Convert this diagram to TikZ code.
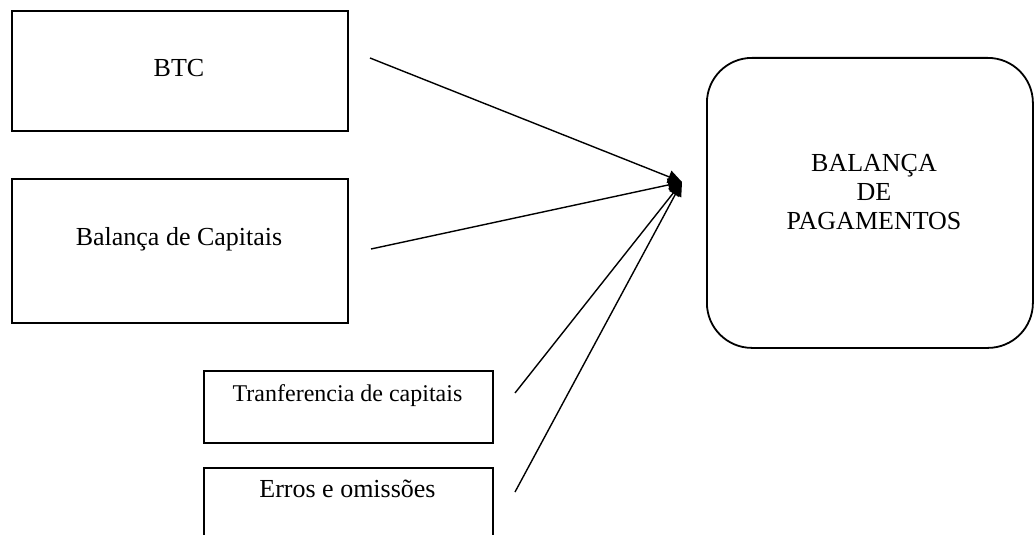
\documentclass[tikz,border=0pt]{standalone}
\usepackage{fontspec}
\setmainfont{Liberation Serif}
\usetikzlibrary{arrows.meta}
\begin{document}
\begin{tikzpicture}[x=1pt,y=-1pt,
  box/.style={draw,line width=1.8pt,inner sep=0pt,anchor=north west},
  lbl/.style={inner sep=0pt,anchor=base,font=\fontsize{26}{29}\selectfont},
  slbl/.style={inner sep=0pt,anchor=base,font=\fontsize{24}{27}\selectfont},
  conn/.style={line width=1.4pt,-{Triangle[length=14pt,width=13pt]}}]
\useasboundingbox (0,0) rectangle (1034,535);
\clip (0,0) rectangle (1034,535);
\fill[white] (0,0) rectangle (1034,535);
% boxes
\node[box,minimum width=336pt,minimum height=120pt] (btc) at (11,10) {};
\node[box,minimum width=336pt,minimum height=144pt] (bcap) at (11,178) {};
\node[box,minimum width=289pt,minimum height=72pt] (btrans) at (203,370) {};
\node[box,minimum width=289pt,minimum height=90pt] (berros) at (203,467) {};
\node[box,rounded corners=45pt,minimum width=326pt,minimum height=290pt] (bpag) at (706,57) {};
% labels
\node[lbl] (tbtc) at (179,77) {BTC};
\node[lbl] (tcap) at (179,245) {Balança de Capitais};
\node[slbl] (ttrans) at (347.5,401) {Tranferencia de capitais};
\node[lbl] (terros) at (347.5,497) {Erros e omissões};
\node[lbl,align=center] (tpag) at (874,229) {BALANÇA\\DE\\PAGAMENTOS};
% connectors
\coordinate (tip) at (682,182);
\coordinate (s1) at (370,58);
\coordinate (s2) at (371,249);
\coordinate (s3) at (515,393);
\coordinate (s4) at (515,492);
\draw[conn] (s1) -- (tip);
\draw[conn] (s2) -- (tip);
\draw[conn] (s3) -- (tip);
\draw[conn] (s4) -- (tip);
\end{tikzpicture}
\end{document}
